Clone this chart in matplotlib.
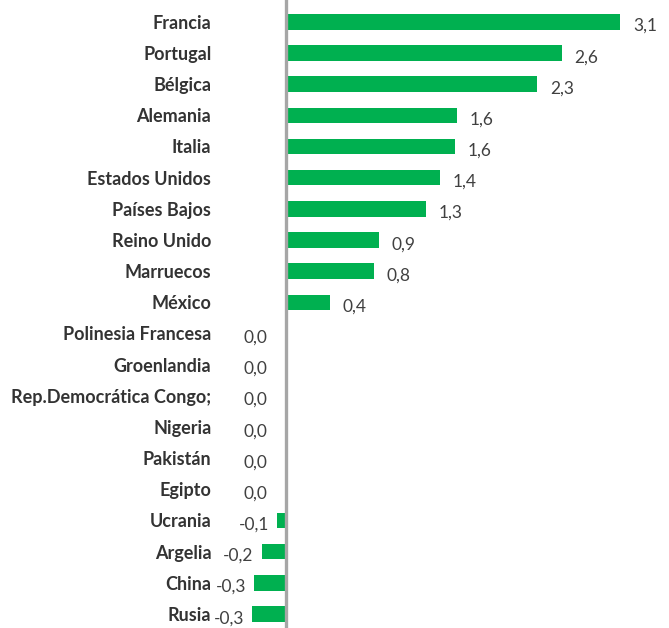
import matplotlib
matplotlib.use('Agg')
import matplotlib.pyplot as plt

# Data
paises = ['Francia', 'Portugal', 'Bélgica', 'Alemania', 'Italia', 'Estados Unidos',
          'Países Bajos', 'Reino Unido', 'Marruecos', 'México', 'Polinesia Francesa',
          'Groenlandia', 'Rep.Democrática Congo;', 'Nigeria', 'Pakistán', 'Egipto',
          'Ucrania', 'Argelia', 'China', 'Rusia']
valores = [3.10, 2.56, 2.33, 1.59, 1.57, 1.43, 1.30, 0.86, 0.82, 0.41, 0.0,
           0.0, 0.0, 0.0, 0.0, 0.0, -0.08, -0.22, -0.29, -0.31]

plt.rcParams['font.family'] = ['Lato', 'DejaVu Sans']

fig = plt.figure(figsize=(6.69, 6.28), dpi=100)
ax = fig.add_axes([221 / 669, 0, 448 / 669, 1])

pos = list(range(len(paises)))
ax.barh(pos, valores, height=0.5, color='#00B050')

# value labels (comma decimals, like the original)
for y, v in zip(pos, valores):
    txt = f'{v:.1f}'.replace('.', ',')
    if v > 0:
        ax.annotate(txt, (v, y), xytext=(9, -3), textcoords='offset points',
                    ha='left', va='center', fontsize=12.5, color='#404040')
    elif v == 0:
        ax.annotate(txt, (0, y), xytext=(-13, -3), textcoords='offset points',
                    ha='right', va='center', fontsize=12.5, color='#404040')
    else:
        ax.annotate(txt, (v, y), xytext=(-6, -3), textcoords='offset points',
                    ha='right', va='center', fontsize=12.5, color='#404040')

ax.axvline(0, color='#A6A6A6', lw=2.4)

ax.set_xlim(-0.6, 3.55)
ax.set_ylim(19.45, -0.7)
ax.set_yticks(pos)
ax.set_yticklabels(paises, fontsize=13, fontweight='bold', color='#333333')
ax.tick_params(axis='y', length=0, pad=7)
ax.set_xticks([])
for s in ax.spines.values():
    s.set_visible(False)

fig.savefig('out.png', dpi=100)
